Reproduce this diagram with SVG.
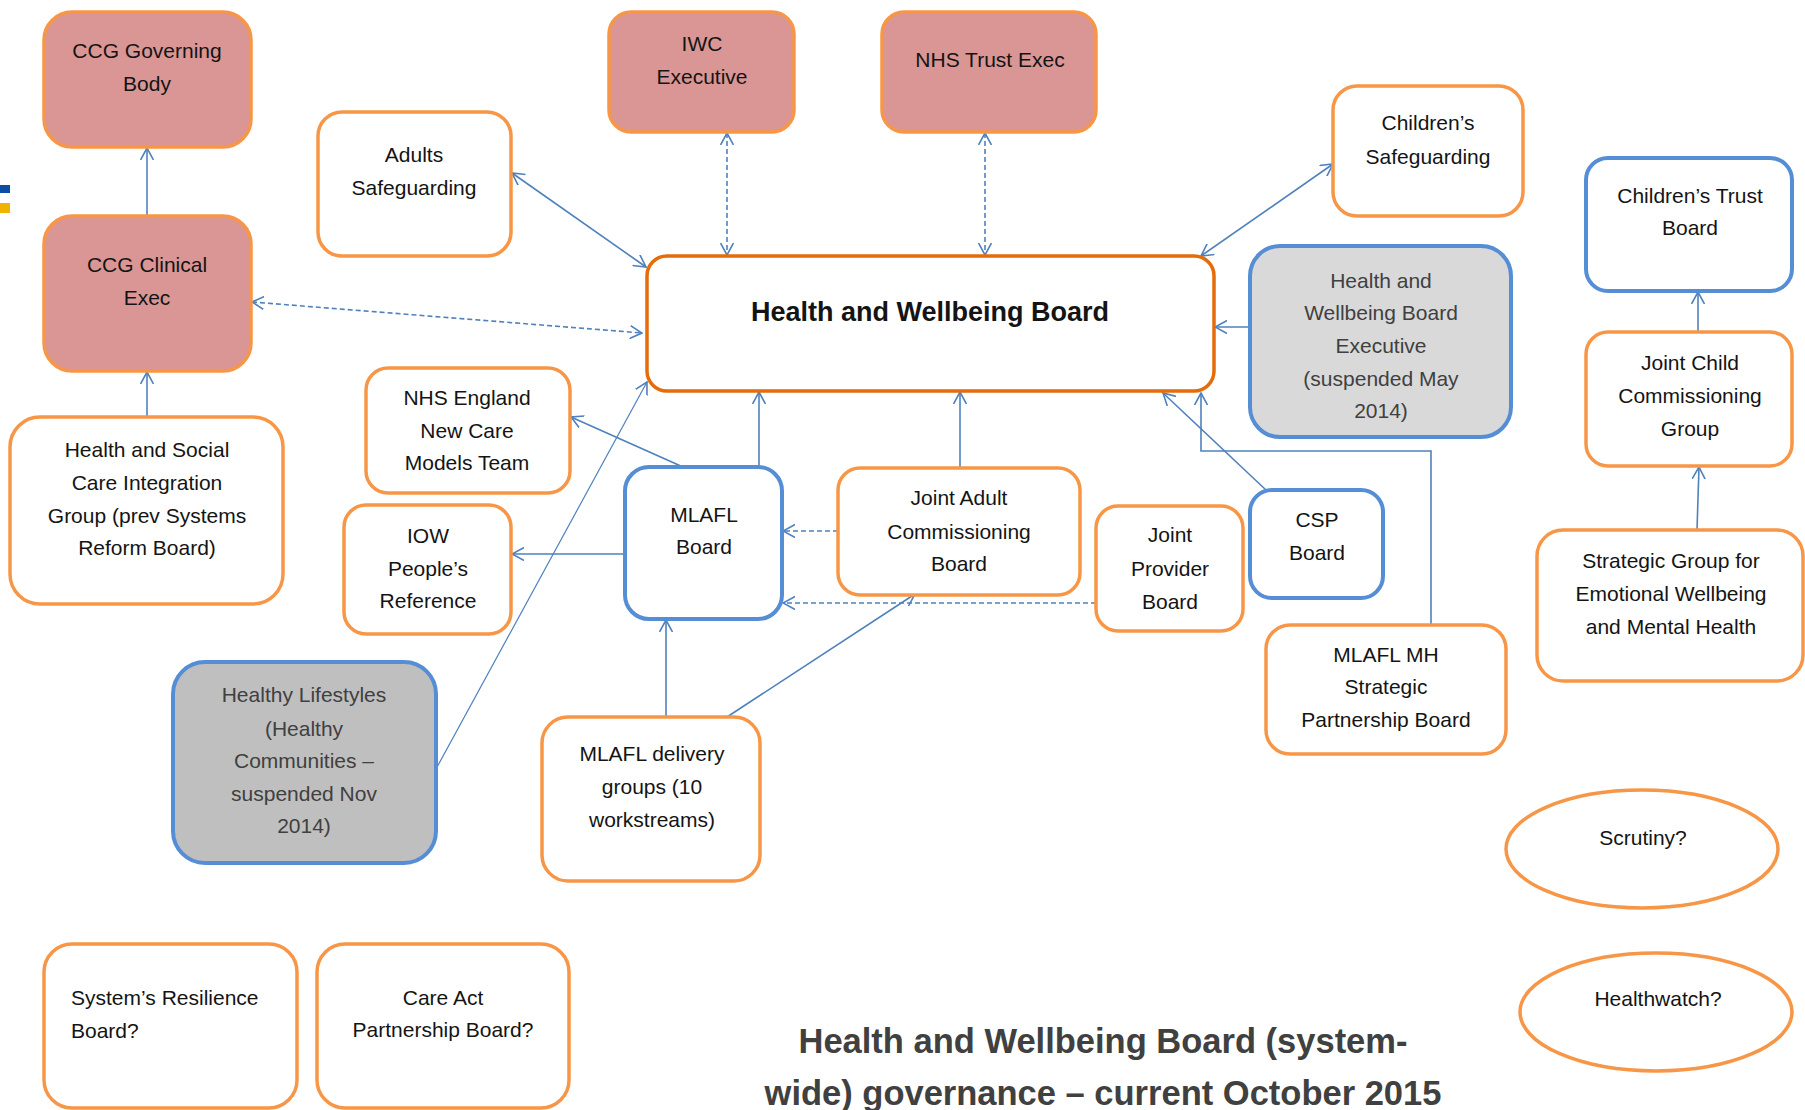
<svg xmlns="http://www.w3.org/2000/svg" width="1805" height="1110" viewBox="0 0 1805 1110">
<defs>
<style>
.box{fill:#ffffff;stroke:#f79646;stroke-width:3.5}
.pink{fill:#d99694;stroke:#f79646;stroke-width:3.5}
.blue{fill:#ffffff;stroke:#558ed5;stroke-width:4}
.grey1{fill:#d9d9d9;stroke:#558ed5;stroke-width:4}
.grey2{fill:#bfbfbf;stroke:#558ed5;stroke-width:4}
.main{fill:#ffffff;stroke:#e46c0a;stroke-width:3.5}
text{font-family:"Liberation Sans",Arial,sans-serif;font-size:21px;fill:#141414;text-anchor:middle}
.dim{fill:#404040}
.bold{font-weight:bold}
.ttl{font-weight:bold;font-size:34.5px;fill:#404040}
.ln{fill:none;stroke:#4f81bd;stroke-width:1.6}
.thin{fill:none;stroke:#4f81bd;stroke-width:1.2}
.dash{fill:none;stroke:#4f81bd;stroke-width:1.6;stroke-dasharray:5,3}
</style>
<marker id="arr" viewBox="0 0 13 14" refX="12" refY="7" markerWidth="13" markerHeight="14" markerUnits="userSpaceOnUse" orient="auto-start-reverse">
<path d="M0,0.5 L12,7 L0,13.5" fill="none" stroke="#4f81bd" stroke-width="1.6"/>
</marker>
</defs>
<rect width="1805" height="1110" fill="#ffffff"/>
<rect x="0" y="185" width="10" height="8" fill="#0b4ea2"/>
<rect x="0" y="203" width="10" height="10" fill="#f0b400"/>

<g id="connectors">
<line class="ln" x1="147" y1="216" x2="147" y2="148" marker-end="url(#arr)"/>
<line class="ln" x1="147" y1="417" x2="147" y2="372" marker-end="url(#arr)"/>
<line class="ln" x1="512" y1="173" x2="646" y2="267" marker-start="url(#arr)" marker-end="url(#arr)"/>
<line class="dash" x1="252" y1="302" x2="642" y2="333" marker-start="url(#arr)" marker-end="url(#arr)"/>
<line class="dash" x1="727" y1="133" x2="727" y2="255" marker-start="url(#arr)" marker-end="url(#arr)"/>
<line class="dash" x1="985" y1="133" x2="985" y2="255" marker-start="url(#arr)" marker-end="url(#arr)"/>
<line class="ln" x1="1333" y1="164" x2="1201" y2="256" marker-start="url(#arr)" marker-end="url(#arr)"/>
<line class="ln" x1="1250" y1="327" x2="1215" y2="327" marker-end="url(#arr)"/>
<line class="ln" x1="1698" y1="332" x2="1698" y2="292" marker-end="url(#arr)"/>
<line class="ln" x1="1697" y1="530" x2="1699" y2="467" marker-end="url(#arr)"/>
<line class="ln" x1="759" y1="467" x2="759" y2="392" marker-end="url(#arr)"/>
<line class="ln" x1="960" y1="468" x2="960" y2="392" marker-end="url(#arr)"/>
<line class="ln" x1="683" y1="467" x2="571" y2="417" marker-end="url(#arr)"/>
<line class="ln" x1="625" y1="554" x2="512" y2="554" marker-end="url(#arr)"/>
<line class="dash" x1="838" y1="531" x2="783" y2="531" marker-end="url(#arr)"/>
<line class="dash" x1="1096" y1="603" x2="783" y2="603" marker-end="url(#arr)"/>
<line class="ln" x1="666" y1="717" x2="666" y2="620" marker-end="url(#arr)"/>
<line class="ln" x1="727" y1="717" x2="915" y2="594" marker-end="url(#arr)"/>
<line class="thin" x1="436" y1="769" x2="647" y2="382" marker-end="url(#arr)"/>
<line class="ln" x1="1266" y1="490" x2="1163" y2="393" marker-end="url(#arr)"/>
<polyline class="ln" points="1431,625 1431,451 1201,451 1201,393" marker-end="url(#arr)"/>
</g>

<g id="ccg-governing-body">
<rect class="pink" x="44" y="12" width="207" height="135" rx="28"/>
<text x="147" y="58">CCG Governing</text>
<text x="147" y="91">Body</text>
</g>
<g id="ccg-clinical-exec">
<rect class="pink" x="44" y="216" width="207" height="155" rx="28"/>
<text x="147" y="272">CCG Clinical</text>
<text x="147" y="305">Exec</text>
</g>
<g id="hsc-integration-group">
<rect class="box" x="10" y="417" width="273" height="187" rx="30"/>
<text x="147" y="457">Health and Social</text>
<text x="147" y="490">Care Integration</text>
<text x="147" y="523">Group (prev Systems</text>
<text x="147" y="555">Reform Board)</text>
</g>
<g id="adults-safeguarding">
<rect class="box" x="318" y="112" width="193" height="144" rx="24"/>
<text x="414" y="162">Adults</text>
<text x="414" y="195">Safeguarding</text>
</g>
<g id="iwc-executive">
<rect class="pink" x="609" y="12" width="185" height="120" rx="22"/>
<text x="702" y="51">IWC</text>
<text x="702" y="84">Executive</text>
</g>
<g id="nhs-trust-exec">
<rect class="pink" x="882" y="12" width="214" height="120" rx="22"/>
<text x="990" y="67">NHS Trust Exec</text>
</g>
<g id="childrens-safeguarding">
<rect class="box" x="1333" y="86" width="190" height="130" rx="24"/>
<text x="1428" y="130">Children’s</text>
<text x="1428" y="164">Safeguarding</text>
</g>
<g id="hwb">
<rect class="main" x="647" y="256" width="567" height="135" rx="20"/>
<text class="bold" x="930" y="321" style="font-size:27px">Health and Wellbeing Board</text>
</g>
<g id="hwb-executive">
<rect class="grey1" x="1250" y="246" width="261" height="191" rx="30"/>
<text class="dim" x="1381" y="288">Health and</text>
<text class="dim" x="1381" y="320">Wellbeing Board</text>
<text class="dim" x="1381" y="353">Executive</text>
<text class="dim" x="1381" y="386">(suspended May</text>
<text class="dim" x="1381" y="418">2014)</text>
</g>
<g id="childrens-trust-board">
<rect class="blue" x="1586" y="158" width="206" height="133" rx="22"/>
<text x="1690" y="203">Children’s Trust</text>
<text x="1690" y="235">Board</text>
</g>
<g id="joint-child-commissioning">
<rect class="box" x="1586" y="332" width="206" height="134" rx="22"/>
<text x="1690" y="370">Joint Child</text>
<text x="1690" y="403">Commissioning</text>
<text x="1690" y="436">Group</text>
</g>
<g id="strategic-group-ewmh">
<rect class="box" x="1537" y="530" width="266" height="151" rx="26"/>
<text x="1671" y="568">Strategic Group for</text>
<text x="1671" y="601">Emotional Wellbeing</text>
<text x="1671" y="634">and Mental Health</text>
</g>
<g id="nhs-england-ncm">
<rect class="box" x="366" y="368" width="204" height="125" rx="22"/>
<text x="467" y="405">NHS England</text>
<text x="467" y="438">New Care</text>
<text x="467" y="470">Models Team</text>
</g>
<g id="iow-peoples-reference">
<rect class="box" x="344" y="505" width="167" height="129" rx="22"/>
<text x="428" y="543">IOW</text>
<text x="428" y="576">People’s</text>
<text x="428" y="608">Reference</text>
</g>
<g id="mlafl-board">
<rect class="blue" x="625" y="467" width="157" height="152" rx="24"/>
<text x="704" y="522">MLAFL</text>
<text x="704" y="554">Board</text>
</g>
<g id="joint-adult-commissioning">
<rect class="box" x="838" y="468" width="242" height="127" rx="22"/>
<text x="959" y="505">Joint Adult</text>
<text x="959" y="539">Commissioning</text>
<text x="959" y="571">Board</text>
</g>
<g id="joint-provider-board">
<rect class="box" x="1096" y="506" width="147" height="125" rx="22"/>
<text x="1170" y="542">Joint</text>
<text x="1170" y="576">Provider</text>
<text x="1170" y="609">Board</text>
</g>
<g id="csp-board">
<rect class="blue" x="1250" y="490" width="133" height="108" rx="22"/>
<text x="1317" y="527">CSP</text>
<text x="1317" y="560">Board</text>
</g>
<g id="mlafl-mh-spb">
<rect class="box" x="1266" y="625" width="240" height="129" rx="24"/>
<text x="1386" y="662">MLAFL MH</text>
<text x="1386" y="694">Strategic</text>
<text x="1386" y="727">Partnership Board</text>
</g>
<g id="healthy-lifestyles">
<rect class="grey2" x="173" y="662" width="263" height="201" rx="32"/>
<text class="dim" x="304" y="702">Healthy Lifestyles</text>
<text class="dim" x="304" y="736">(Healthy</text>
<text class="dim" x="304" y="768">Communities –</text>
<text class="dim" x="304" y="801">suspended Nov</text>
<text class="dim" x="304" y="833">2014)</text>
</g>
<g id="mlafl-delivery-groups">
<rect class="box" x="542" y="717" width="218" height="164" rx="26"/>
<text x="652" y="761">MLAFL delivery</text>
<text x="652" y="794">groups (10</text>
<text x="652" y="827">workstreams)</text>
</g>
<g id="scrutiny">
<ellipse class="box" cx="1642" cy="849" rx="136" ry="59"/>
<text x="1643" y="845">Scrutiny?</text>
</g>
<g id="healthwatch">
<ellipse class="box" cx="1656" cy="1012" rx="136" ry="59"/>
<text x="1658" y="1006">Healthwatch?</text>
</g>
<g id="systems-resilience-board">
<rect class="box" x="44" y="944" width="253" height="164" rx="28"/>
<text x="71" y="1005" style="text-anchor:start">System’s Resilience</text>
<text x="71" y="1038" style="text-anchor:start">Board?</text>
</g>
<g id="care-act-partnership-board">
<rect class="box" x="317" y="944" width="252" height="164" rx="28"/>
<text x="443" y="1005">Care Act</text>
<text x="443" y="1037">Partnership Board?</text>
</g>
<g id="title">
<text class="ttl" x="1103" y="1053">Health and Wellbeing Board (system-</text>
<text class="ttl" x="1103" y="1105">wide) governance – current October 2015</text>
</g>
</svg>
